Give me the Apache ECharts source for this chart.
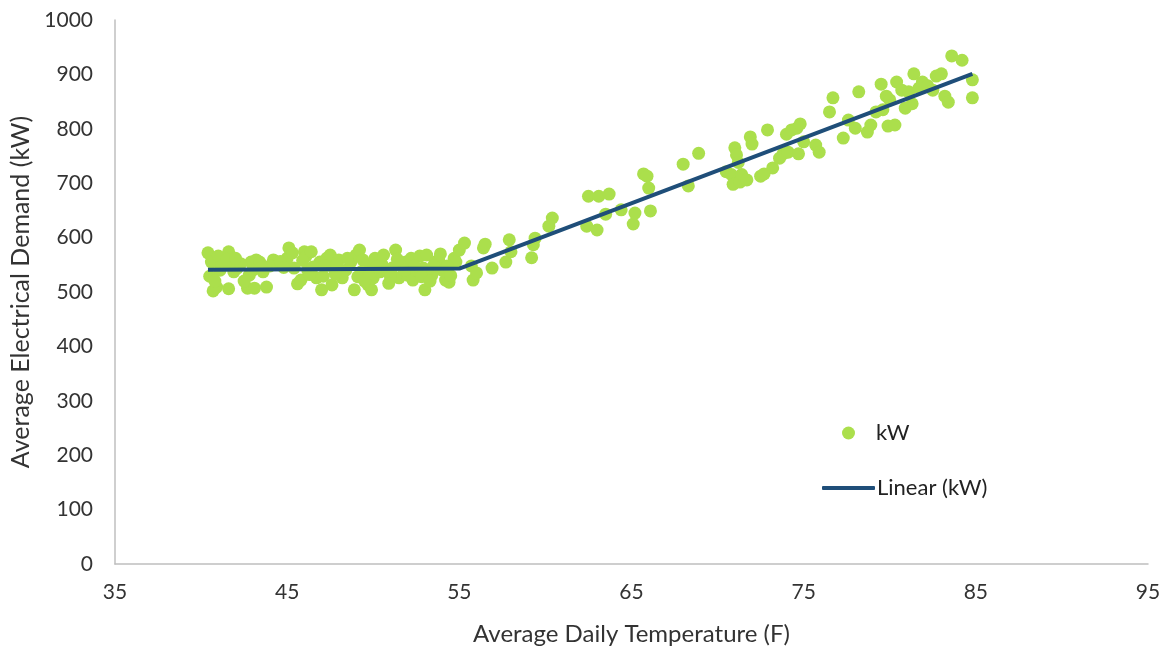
<!DOCTYPE html>
<html>
<head>
<meta charset="utf-8">
<script src="https://cdn.jsdelivr.net/npm/echarts@6/dist/echarts.min.js"></script>
<style>html,body{margin:0;padding:0;background:#fff;}#c{width:1170px;height:650px;}</style>
</head>
<body>
<div id="c"></div>
<script>
// Observed data: [temperature F, kW]
const kwPoints = [
[40.4,572],[40.6,555],[40.7,502],[40.9,509],[41.0,566],[40.5,529],[41.1,540],[41.6,574],[41.7,555],[41.6,506],
[41.9,537],[42.1,544],[42.7,507],[42.8,531],[42.9,555],[43.2,559],[43.1,507],[43.4,555],[43.6,537],[43.8,509],
[44.2,559],[44.4,551],[45.0,562],[45.1,581],[45.4,544],[45.6,515],[45.8,522],[46.0,574],[46.1,566],[46.2,540],
[46.4,574],[46.7,526],[46.9,555],[47.0,504],[47.1,529],[47.3,562],[47.5,568],[47.6,513],[47.7,544],[48.0,559],
[48.2,526],[48.4,540],[48.7,555],[48.9,504],[49.0,568],[49.2,577],[49.3,537],[49.4,559],[49.6,548],[49.7,513],
[49.9,504],[50.0,526],[50.1,562],[50.4,537],[50.5,551],[50.8,540],[51.1,544],[51.3,577],[51.5,526],[51.6,550],
[51.9,555],[52.0,531],[52.2,562],[52.3,522],[52.5,540],[52.7,566],[52.9,544],[53.0,504],[53.1,568],[53.4,531],
[53.6,555],[53.8,559],[54.0,540],[54.2,522],[54.4,518],[54.7,562],[54.8,555],[55.0,577],[55.3,590],
[41.2,548],[41.5,560],[42.3,552],[42.5,520],[43.0,540],[44.0,548],[44.6,556],[45.3,572],[45.9,558],[46.5,546],
[47.2,548],[47.8,533],[48.5,562],[49.1,528],[49.5,520],[49.8,535],[50.2,546],[50.6,568],[51.0,528],[51.8,540],
[52.4,548],[52.8,528],[53.3,520],[53.5,548],[53.9,570],[54.3,548],[54.5,530],[51.4,560],[50.9,516],[47.9,550],
[46.3,532],[44.8,545],[43.5,545],[42.0,562],[40.8,520],
[55.7,548],[55.8,522],[56.0,535],[56.4,581],[56.5,588],[56.9,544],[57.7,555],[57.9,596],[58.0,574],[59.2,563],
[59.3,587],[59.4,599],[60.2,621],[60.4,636],[62.4,621],[62.5,676],[63.0,614],[63.1,676],[63.5,643],[63.7,680],
[64.4,651],[65.1,625],[65.2,645],[65.7,717],[65.9,713],[66.0,691],[66.1,649],[68.0,735],[68.3,695],[68.9,755],
[70.5,721],[70.8,716],[70.9,698],[71.0,765],[71.1,752],[71.2,738],[71.3,702],[71.4,716],[71.7,706],[71.9,785],
[72.0,772],[72.5,713],[72.7,717],[72.9,798],[73.2,728],[73.6,746],[73.8,754],[74.0,790],[74.1,757],[74.3,798],
[74.6,801],[74.8,809],[74.7,754],[75.0,776],[75.7,770],[75.9,757],[76.5,831],[76.7,857],[77.3,783],[77.6,816],
[78.0,801],[78.2,868],[78.7,794],[78.9,807],[79.2,831],[79.5,882],[79.6,835],[79.8,860],[79.9,805],[80.0,853],
[80.3,807],[80.4,886],[80.7,871],[80.9,838],[81.1,868],[81.3,846],[81.4,901],[81.7,875],[81.9,886],[82.2,879],
[82.5,871],[82.7,897],[83.0,901],[83.2,860],[83.4,849],[83.6,934],[84.2,926],[84.8,890],[84.8,857]
];
// Fitted piecewise trend line
const trendPoints = [[40.4,541],[55.0,543],[84.8,901]];
const xTicks = {min:35, max:95, step:10};
const yTicks = {min:0, max:1000, step:100};

const chart = echarts.init(document.getElementById('c'));
const font = 'Lato, "Open Sans", sans-serif';
chart.setOption({
  animation:false,
  backgroundColor:'#ffffff',
  grid:{left:115, right:22, top:20, bottom:86, containLabel:false, outerBoundsMode:'none'},
  legend:[
    {data:['kW'], orient:'vertical', left:837, top:417, itemWidth:13, itemHeight:13, icon:'circle',
     textStyle:{fontFamily:font, fontSize:22, color:'#222', padding:[0,0,0,16]}},
    {data:['Linear (kW)'], orient:'vertical', left:817, top:472, itemWidth:53, itemHeight:4, icon:'roundRect',
     itemGap:0, textStyle:{fontFamily:font, fontSize:22, color:'#222', padding:[0,0,0,-3]}}
  ],
  xAxis:{type:'value', min:xTicks.min, max:xTicks.max, interval:xTicks.step,
    name:'Average Daily Temperature (F)', nameLocation:'middle', nameGap:58,
    nameTextStyle:{fontFamily:font, fontSize:24, color:'#333'},
    axisLine:{show:true, lineStyle:{color:'#bfbfbf', width:1.5}}, axisTick:{show:false},
    splitLine:{show:false}, axisLabel:{fontFamily:font, fontSize:21, color:'#333', margin:18}},
  yAxis:{type:'value', min:yTicks.min, max:yTicks.max, interval:yTicks.step,
    name:'Average Electrical Demand (kW)', nameLocation:'middle', nameGap:82,
    nameTextStyle:{fontFamily:font, fontSize:25, color:'#333'},
    axisLine:{show:true, lineStyle:{color:'#bfbfbf', width:1.5}}, axisTick:{show:false},
    splitLine:{show:false}, axisLabel:{fontFamily:font, fontSize:21, color:'#333', margin:22,
      formatter:function(v){return String(v);}}},
  series:[
    {name:'kW', type:'scatter', data:kwPoints, symbolSize:13,
     itemStyle:{color:'#abdf4c', opacity:1}, z:2},
    {name:'Linear (kW)', type:'line', data:trendPoints, showSymbol:false, symbol:'none',
     lineStyle:{color:'#1f4e79', width:4}, itemStyle:{color:'#1f4e79'}, z:3}
  ]
});
</script>
</body>
</html>
